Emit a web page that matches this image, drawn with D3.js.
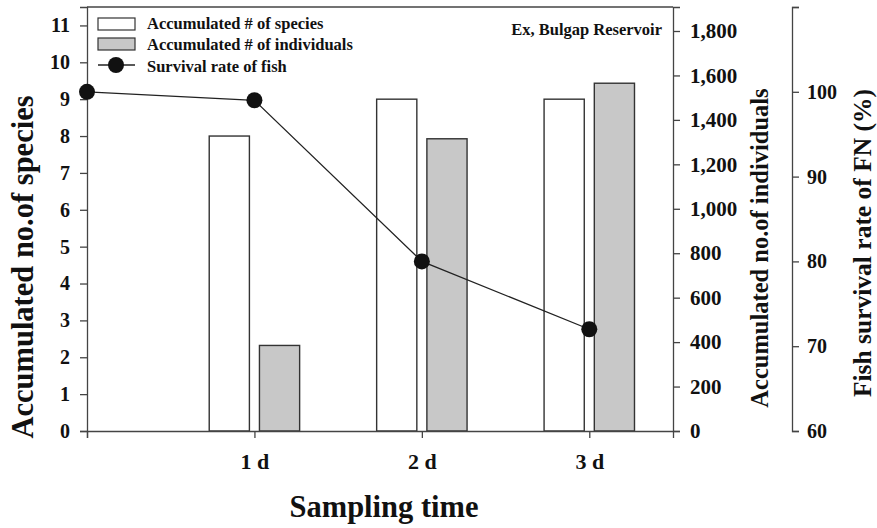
<!DOCTYPE html>
<html><head><meta charset="utf-8">
<script src="https://cdn.jsdelivr.net/npm/d3@7"></script>
<style>
body{margin:0;background:#fff;}
svg text{font-family:"Liberation Serif","Times New Roman",serif;font-weight:bold;fill:#111;}
</style></head>
<body><svg id="c" width="877" height="528"></svg>
<script>
const xTicks = [0, 1, 2, 3];
const xTickLabels = ["", "1 d", "2 d", "3 d"];
const barDays = [1, 2, 3];
const species = [8, 9, 9];
const individuals = [385, 1315, 1565];
const survivalDays = [0, 1, 2, 3];
const survival = [100, 99, 80, 72];
const speciesTicks = [0,1,2,3,4,5,6,7,8,9,10,11];
const indivTicks = [0,200,400,600,800,1000,1200,1400,1600,1800];
const survTicks = [60,70,80,90,100,110];
const legendLabels = ["Accumulated # of species","Accumulated # of individuals","Survival rate of fish"];

const svg = d3.select("#c");
const L=87, R=673, T=7, B=431, R2=792;
const x = d3.scaleLinear().domain([0,3.5]).range([L,R]);
const yS = d3.scaleLinear().domain([0,11.5]).range([B,T]);
const yI = d3.scaleLinear().domain([0,1908]).range([B,T]);
const yP = d3.scaleLinear().domain([60,110]).range([B,T]);
const axisColor="#444";

function styleAxis(g, size){
  g.selectAll("path,line").attr("stroke",axisColor).attr("stroke-width",1.3);
  g.selectAll("text").style("font-size",size+"px").attr("fill","#111");
}

// frame top
svg.append("line").attr("x1",L).attr("x2",R).attr("y1",T).attr("y2",T).attr("stroke",axisColor).attr("stroke-width",1.3);

// bars
const bw = x(0.24)-x(0);
const off = x(0.15)-x(0);
svg.selectAll(".bs").data(barDays).join("rect")
  .attr("x",(d)=>x(d)-off-bw/2).attr("width",bw)
  .attr("y",(d,i)=>yS(species[i])).attr("height",(d,i)=>B-yS(species[i]))
  .attr("fill","#fff").attr("stroke","#333").attr("stroke-width",1.4);
svg.selectAll(".bi").data(barDays).join("rect")
  .attr("x",(d)=>x(d)+off-bw/2).attr("width",bw)
  .attr("y",(d,i)=>yI(individuals[i])).attr("height",(d,i)=>B-yI(individuals[i]))
  .attr("fill","#c8c8c8").attr("stroke","#333").attr("stroke-width",1.4);

// axes
const gx = svg.append("g").attr("transform",`translate(0,${B})`)
  .call(d3.axisBottom(x).tickValues(xTicks).tickFormat((d,i)=>xTickLabels[i]).tickSizeOuter(0).tickSize(7).tickPadding(15));
styleAxis(gx,22);
const gl = svg.append("g").attr("transform",`translate(${L},0)`)
  .call(d3.axisLeft(yS).tickValues(speciesTicks).tickFormat(d3.format("d")).tickSizeOuter(0).tickSize(7).tickPadding(10));
styleAxis(gl,20);
const gr = svg.append("g").attr("transform",`translate(${R},0)`)
  .call(d3.axisRight(yI).tickValues(indivTicks).tickFormat(d3.format(",")).tickSizeOuter(0).tickSize(7).tickPadding(10));
styleAxis(gr,21);
const gp = svg.append("g").attr("transform",`translate(${R2},0)`)
  .call(d3.axisRight(yP).tickValues(survTicks).tickFormat(d=>d===110?"":d).tickSizeOuter(0).tickSize(7).tickPadding(8));
styleAxis(gp,20);

// line
const line = d3.line().x((d,i)=>x(survivalDays[i])).y(d=>yP(d));
svg.append("path").datum(survival).attr("d",line).attr("fill","none").attr("stroke","#222").attr("stroke-width",1.3);
svg.selectAll(".pt").data(survival).join("circle")
  .attr("cx",(d,i)=>x(survivalDays[i])).attr("cy",d=>yP(d)).attr("r",8).attr("fill","#111");

// legend
const lg = svg.append("g");
lg.append("rect").attr("x",98).attr("y",18).attr("width",37).attr("height",12).attr("fill","#fff").attr("stroke","#333").attr("stroke-width",1.2);
lg.append("rect").attr("x",98).attr("y",38).attr("width",37).attr("height",12).attr("fill","#c8c8c8").attr("stroke","#333").attr("stroke-width",1.2);
lg.append("line").attr("x1",98).attr("x2",135).attr("y1",65).attr("y2",65).attr("stroke","#222").attr("stroke-width",1.3);
lg.append("circle").attr("cx",116).attr("cy",65).attr("r",8).attr("fill","#111");
legendLabels.forEach((t,i)=>{
  lg.append("text").attr("x",147).attr("y",[29,50,72][i]).style("font-size","16.5px").text(t);
});

svg.append("text").attr("x",662).attr("y",35).attr("text-anchor","end").style("font-size","16.5px").text("Ex, Bulgap Reservoir");

// titles
svg.append("text").attr("transform","translate(33,267) rotate(-90)").attr("text-anchor","middle").style("font-size","30.5px").text("Accumulated no.of species");
svg.append("text").attr("transform","translate(768,248) rotate(-90)").attr("text-anchor","middle").style("font-size","24.5px").text("Accumulated no.of individuals");
svg.append("text").attr("transform","translate(871,243) rotate(-90)").attr("text-anchor","middle").style("font-size","25.5px").text("Fish survival rate of FN (%)");
svg.append("text").attr("x",384).attr("y",517).attr("text-anchor","middle").style("font-size","30.5px").text("Sampling time");
</script></body></html>
